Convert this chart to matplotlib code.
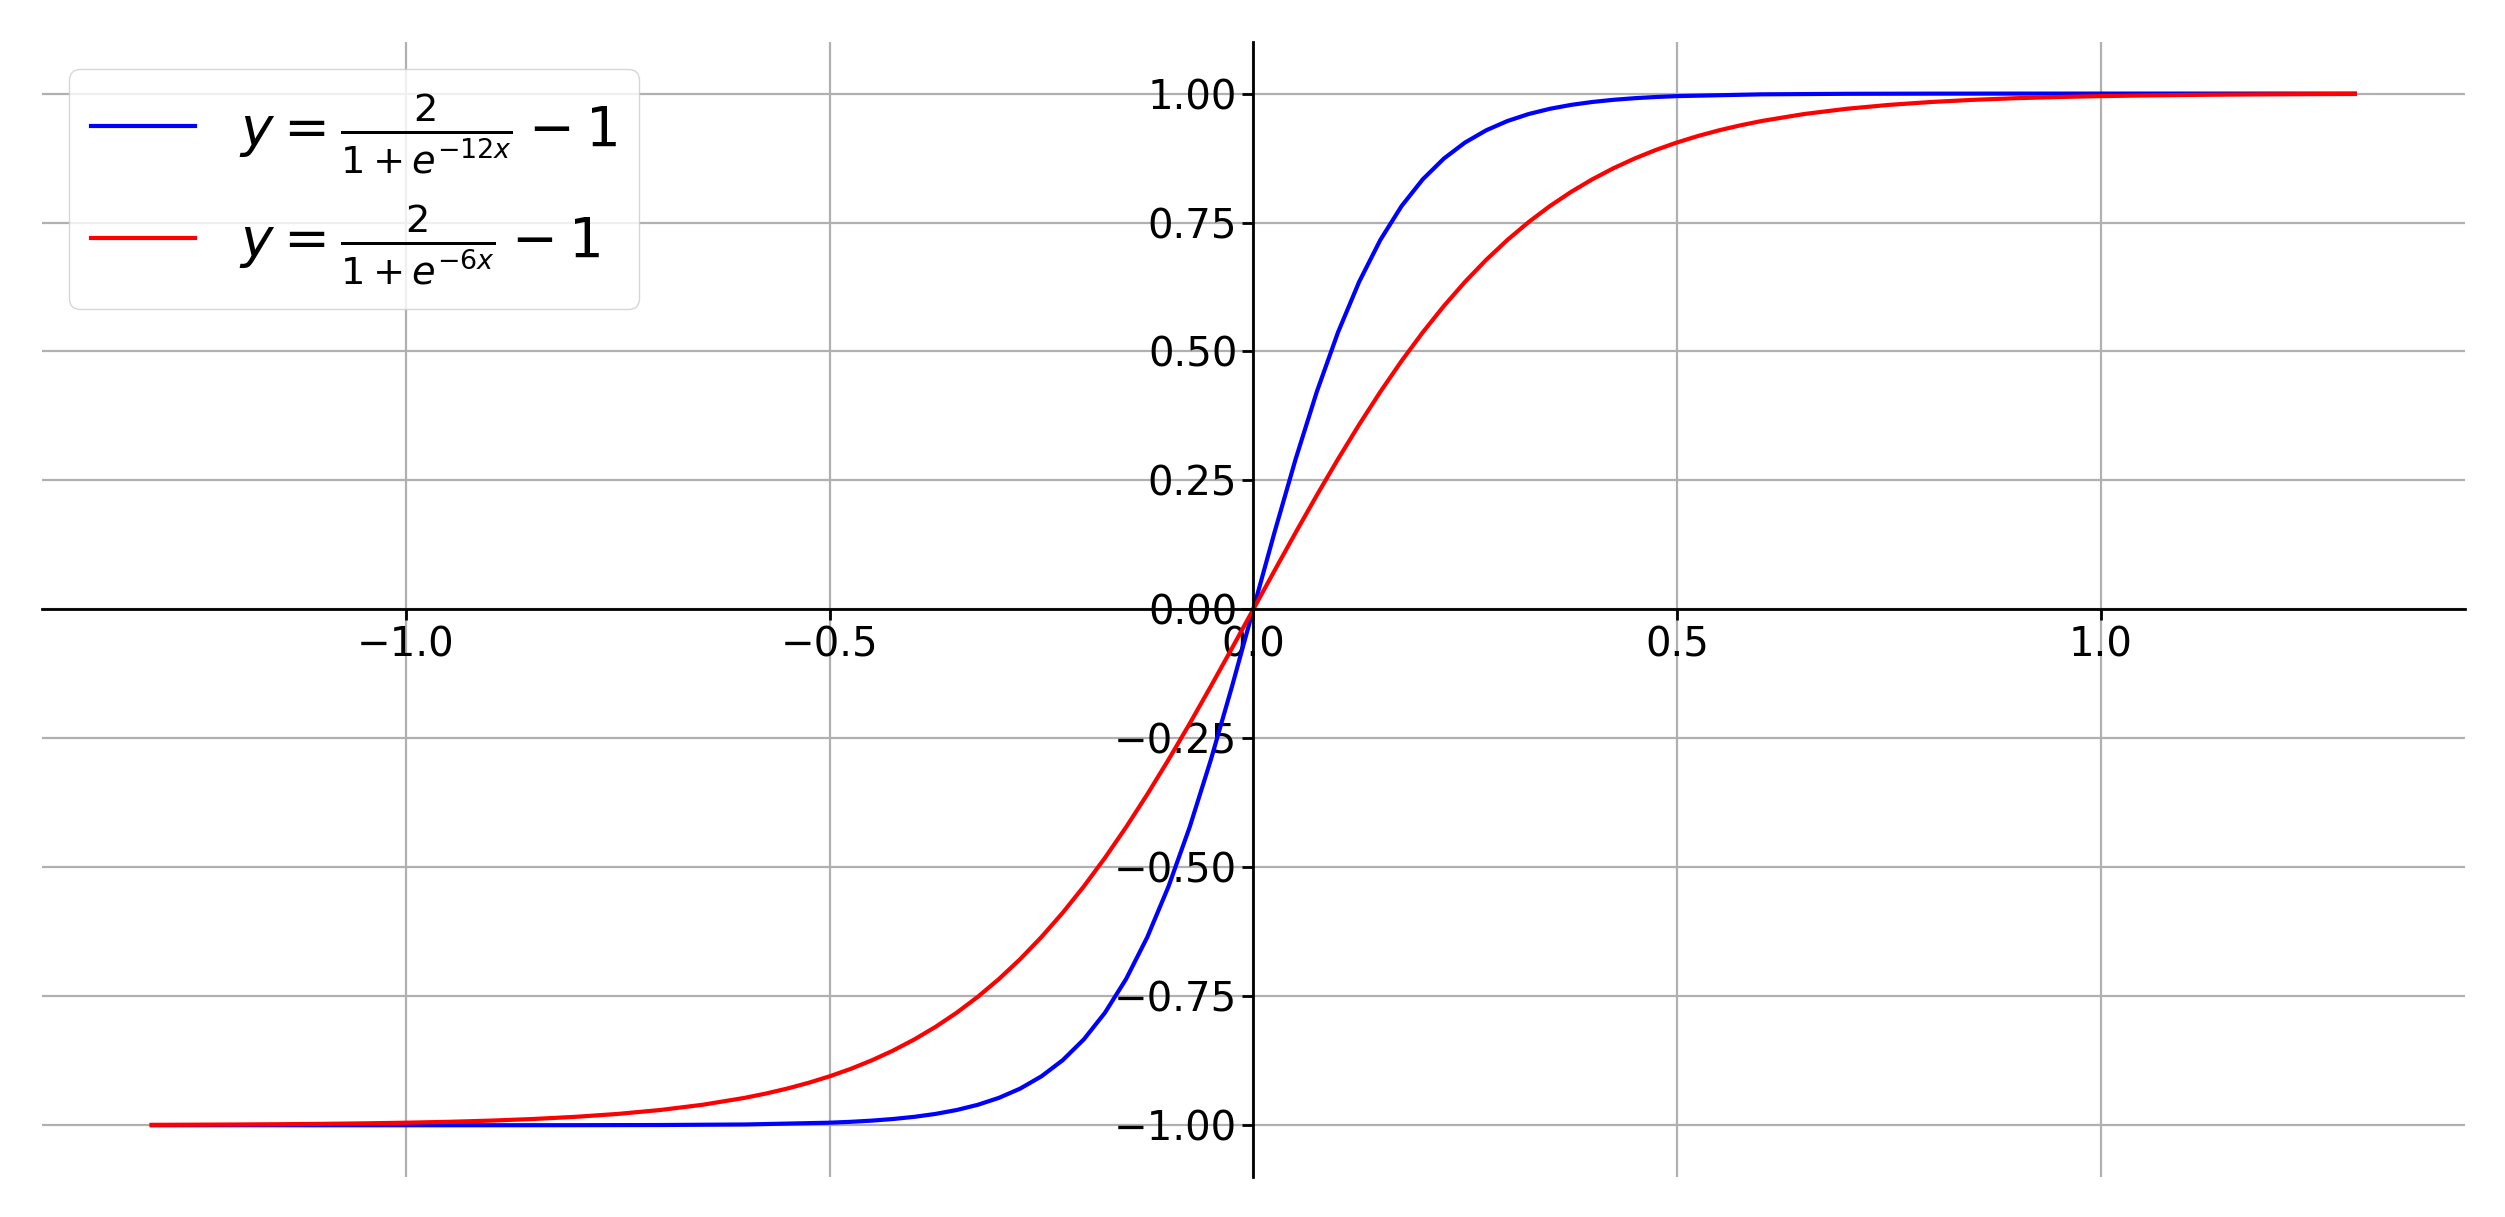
import matplotlib
matplotlib.use("Agg")
import matplotlib.pyplot as plt

# Blue curve: y = 2/(1+e^{-12x}) - 1 (sampled values)
x_blue = [-1.3, -1.2, -1.1, -1.0, -0.9, -0.8, -0.7, -0.6, -0.5, -0.475, -0.45, -0.425,
          -0.4, -0.375, -0.35, -0.325, -0.3, -0.275, -0.25, -0.225, -0.2, -0.175, -0.15,
          -0.125, -0.1, -0.075, -0.05, -0.025, 0.0, 0.025, 0.05, 0.075, 0.1, 0.125, 0.15,
          0.175, 0.2, 0.225, 0.25, 0.275, 0.3, 0.325, 0.35, 0.375, 0.4, 0.425, 0.45, 0.475,
          0.5, 0.6, 0.7, 0.8, 0.9, 1.0, 1.1, 1.2, 1.3]
y_blue = [-1.0, -1.0, -1.0, -0.99999, -0.99996, -0.99986, -0.99955, -0.99851, -0.99505,
          -0.99334, -0.99101, -0.98788, -0.98367, -0.97803, -0.97045, -0.96032, -0.94681,
          -0.92887, -0.90515, -0.87405, -0.83365, -0.78181, -0.71630, -0.63515, -0.53705,
          -0.42190, -0.29131, -0.14889, 0.0, 0.14889, 0.29131, 0.42190, 0.53705, 0.63515,
          0.71630, 0.78181, 0.83365, 0.87405, 0.90515, 0.92887, 0.94681, 0.96032, 0.97045,
          0.97803, 0.98367, 0.98788, 0.99101, 0.99334, 0.99505, 0.99851, 0.99955, 0.99986,
          0.99996, 0.99999, 1.0, 1.0, 1.0]

# Red curve: y = 2/(1+e^{-6x}) - 1 (sampled values)
x_red = [-1.3, -1.25, -1.2, -1.15, -1.1, -1.05, -1.0, -0.95, -0.9, -0.85, -0.8, -0.75,
         -0.7, -0.65, -0.6, -0.575, -0.55, -0.525, -0.5, -0.475, -0.45, -0.425, -0.4,
         -0.375, -0.35, -0.325, -0.3, -0.275, -0.25, -0.225, -0.2, -0.175, -0.15, -0.125,
         -0.1, -0.075, -0.05, -0.025, 0.0,
         0.025, 0.05, 0.075, 0.1, 0.125, 0.15, 0.175, 0.2, 0.225, 0.25, 0.275, 0.3,
         0.325, 0.35, 0.375, 0.4, 0.425, 0.45, 0.475, 0.5, 0.525, 0.55, 0.575, 0.6,
         0.65, 0.7, 0.75, 0.8, 0.85, 0.9, 0.95, 1.0, 1.05, 1.1, 1.15, 1.2, 1.25, 1.3]
y_red = [-0.99918, -0.99889, -0.99851, -0.99799, -0.99728, -0.99633, -0.99505, -0.99334,
         -0.99101, -0.98788, -0.98367, -0.97803, -0.97045, -0.96032, -0.94681, -0.93846,
         -0.92887, -0.91782, -0.90515, -0.89064, -0.87405, -0.85515, -0.83365, -0.80930,
         -0.78181, -0.75089, -0.71630, -0.67778, -0.63515, -0.58826, -0.53705, -0.48156,
         -0.42190, -0.35836, -0.29131, -0.22128, -0.14889, -0.07486, 0.0,
         0.07486, 0.14889, 0.22128, 0.29131, 0.35836, 0.42190, 0.48156, 0.53705, 0.58826,
         0.63515, 0.67778, 0.71630, 0.75089, 0.78181, 0.80930, 0.83365, 0.85515, 0.87405,
         0.89064, 0.90515, 0.91782, 0.92887, 0.93846, 0.94681, 0.96032, 0.97045, 0.97803,
         0.98367, 0.98788, 0.99101, 0.99334, 0.99505, 0.99633, 0.99728, 0.99799, 0.99851,
         0.99889, 0.99918]

labels = [r"$y=\frac{2}{1+e^{-12x}}-1$", r"$y=\frac{2}{1+e^{-6x}}-1$"]
yticks = [-1.0, -0.75, -0.5, -0.25, 0.0, 0.25, 0.5, 0.75, 1.0]

fig = plt.figure(figsize=(25.05, 12.17), dpi=100)
ax = fig.add_axes([0.0166, 0.033, 0.9674, 0.9325])

ax.plot(x_blue, y_blue, color="blue", lw=3.0, label=labels[0])
ax.plot(x_red, y_red, color="red", lw=3.0, label=labels[1])

ax.spines["left"].set_position(("data", 0))
ax.spines["bottom"].set_position(("data", 0))
ax.spines["top"].set_visible(False)
ax.spines["right"].set_visible(False)
for s in ("left", "bottom"):
    ax.spines[s].set_linewidth(2.0)

ax.grid(True, color="#b0b0b0", lw=1.6)
ax.tick_params(labelsize=29, width=2.0, length=8)
ax.set_yticks(yticks)

leg = ax.legend(loc="upper left", fontsize=39.5, handlelength=1.9, borderaxespad=0.5)
for line in leg.get_lines():
    line.set_linewidth(3.0)

fig.savefig("out.png", dpi=100)
